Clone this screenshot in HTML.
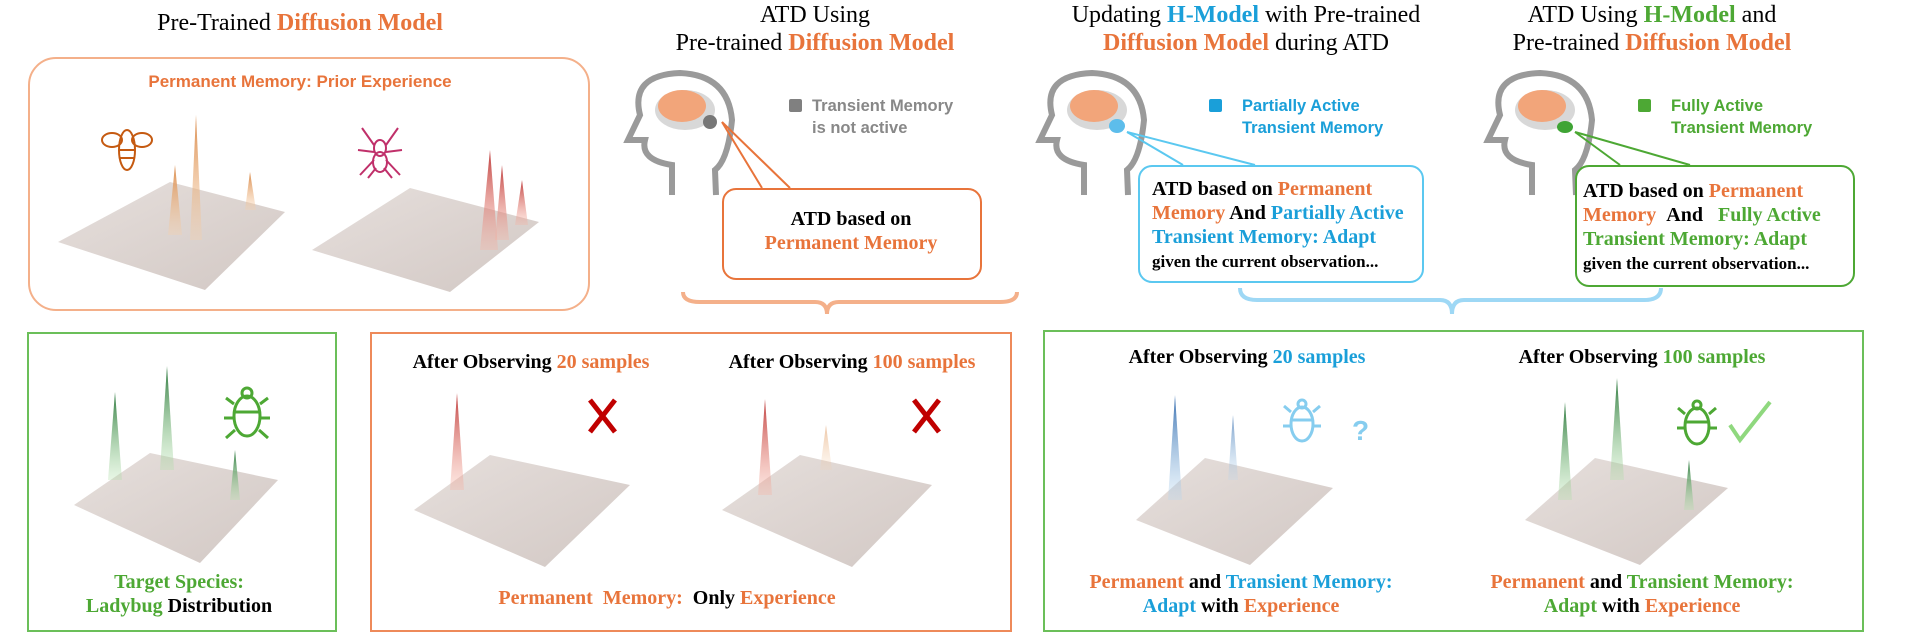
<!DOCTYPE html>
<html><head><meta charset="utf-8">
<style>
body{margin:0;width:1912px;height:634px;background:#fff;position:relative;overflow:hidden;font-family:"Liberation Serif",serif}
.a{position:absolute}
.t{position:absolute;white-space:nowrap;transform:translateX(-50%);text-align:center}
.o{color:#E8743B}.b{color:#1A9FD9}.g{color:#4DA834}.k{color:#111}
.title{font-size:24px;line-height:28px}
.bt{font-weight:bold;font-size:20px;line-height:24px}
.lg{font-family:"Liberation Sans",sans-serif;font-weight:bold;font-size:16.5px;line-height:22px;color:#888}
</style></head><body>

<div class="t title" style="left:300px;top:9px">Pre-Trained <b class="o">Diffusion Model</b></div>
<div class="t title" style="left:815px;top:1px">ATD Using<br>Pre-trained <b class="o">Diffusion Model</b></div>
<div class="t title" style="left:1246px;top:1px">Updating <b class="b">H-Model</b> with Pre-trained<br><b class="o">Diffusion Model</b> during ATD</div>
<div class="t title" style="left:1652px;top:1px">ATD Using <b class="g">H-Model</b> and<br>Pre-trained <b class="o">Diffusion Model</b></div>

<div class="a" style="left:28px;top:57px;width:558px;height:250px;border:2px solid #F4B08A;border-radius:28px"></div>
<div class="t" style="left:300px;top:72px;font-family:'Liberation Sans',sans-serif;font-weight:bold;font-size:17px;color:#E8743B">Permanent Memory: Prior Experience</div>

<svg class="a" style="left:0;top:0" width="1912" height="634">
<defs>
<linearGradient id="pl" x1="0" y1="0" x2="1" y2="1"><stop offset="0" stop-color="#e6dfdc"/><stop offset="1" stop-color="#d2c8c4"/></linearGradient>
<linearGradient id="po" x1="0" y1="0" x2="0" y2="1"><stop offset="0" stop-color="#d98a4a"/><stop offset="1" stop-color="#f8d0a8" stop-opacity=".3"/></linearGradient>
<linearGradient id="pr" x1="0" y1="0" x2="0" y2="1"><stop offset="0" stop-color="#c04040"/><stop offset="1" stop-color="#f8b0a0" stop-opacity=".3"/></linearGradient>
<linearGradient id="pg" x1="0" y1="0" x2="0" y2="1"><stop offset="0" stop-color="#2f7a40"/><stop offset="1" stop-color="#b0e0a8" stop-opacity=".3"/></linearGradient>
<linearGradient id="pb" x1="0" y1="0" x2="0" y2="1"><stop offset="0" stop-color="#3a70b0"/><stop offset="1" stop-color="#b8d8f0" stop-opacity=".3"/></linearGradient>
</defs>
<polygon points="58,242 170,182 285,212 205,290" fill="url(#pl)"/>
<polygon points="312,250 410,188 539,222 450,292" fill="url(#pl)"/>
<polygon points="190,240 196,115 202,240" fill="url(#po)"/><polygon points="168,235 175,165 182,235" fill="url(#po)"/><polygon points="245,210 250,172 256,210" fill="url(#po)"/>
<polygon points="480,250 490,150 498,250" fill="url(#pr)"/><polygon points="495,240 502,165 509,240" fill="url(#pr)"/><polygon points="515,225 522,180 528,225" fill="url(#pr)"/>
<g stroke="#C55A11" stroke-width="2" fill="none"><ellipse cx="127" cy="150" rx="8" ry="20"/><ellipse cx="112" cy="140" rx="10" ry="7"/><ellipse cx="142" cy="140" rx="10" ry="7"/><line x1="119" y1="150" x2="135" y2="150"/><line x1="119" y1="158" x2="135" y2="158"/></g>
<g stroke="#C0306A" stroke-width="2" fill="none"><ellipse cx="380" cy="148" rx="6" ry="8"/><ellipse cx="380" cy="162" rx="7" ry="10"/><path d="M374 145 L362 128 M386 145 L398 128 M374 152 L358 150 M386 152 L402 150 M374 160 L360 175 M386 160 L400 175 M376 168 L368 178 M384 168 L392 178"/></g>
<g stroke="#9a9a9a" stroke-width="6" fill="none">
<path d="M672 195 L672 165 Q640 160 645 140 L628 140 L640 115 Q630 75 680 73 Q728 75 732 120 Q728 160 715 170 L716 195"/>
<path d="M1084 195 L1084 165 Q1052 160 1057 140 L1040 140 L1052 115 Q1042 75 1092 73 Q1140 75 1144 120 Q1140 160 1127 170 L1128 195"/>
<path d="M1532 195 L1532 165 Q1500 160 1505 140 L1488 140 L1500 115 Q1490 75 1540 73 Q1588 75 1592 120 Q1588 160 1575 170 L1576 195"/>
</g>
<ellipse cx="685" cy="110" rx="30" ry="20" fill="#d8d8d8"/><ellipse cx="682" cy="106" rx="24" ry="16" fill="#F2A57A"/><ellipse cx="710" cy="122" rx="7" ry="7" fill="#777"/>
<ellipse cx="1097" cy="110" rx="30" ry="20" fill="#d8d8d8"/><ellipse cx="1094" cy="106" rx="24" ry="16" fill="#F2A57A"/><ellipse cx="1117" cy="126" rx="8" ry="7" fill="#5DBDEB"/>
<ellipse cx="1545" cy="110" rx="30" ry="20" fill="#d8d8d8"/><ellipse cx="1542" cy="106" rx="24" ry="16" fill="#F2A57A"/><ellipse cx="1565" cy="127" rx="8" ry="6" fill="#3FA435"/>
<polyline points="722,122 762,188" stroke="#E8743B" stroke-width="2" fill="none"/><polyline points="722,122 790,188" stroke="#E8743B" stroke-width="2" fill="none"/>
<polyline points="1127,132 1183,165" stroke="#5BC8F0" stroke-width="2" fill="none"/><polyline points="1127,132 1255,165" stroke="#5BC8F0" stroke-width="2" fill="none"/>
<polyline points="1575,132 1620,165" stroke="#4DA834" stroke-width="2" fill="none"/><polyline points="1575,132 1690,165" stroke="#4DA834" stroke-width="2" fill="none"/>
<path d="M683 292 Q683 302 700 302 L815 302 Q827 302 827 314 Q827 302 839 302 L1000 302 Q1017 302 1017 292" stroke="#F4B08A" stroke-width="4" fill="none"/>
<path d="M1240 288 Q1240 300 1257 300 L1440 300 Q1452 300 1452 314 Q1452 300 1464 300 L1644 300 Q1661 300 1661 288" stroke="#9ED8F5" stroke-width="4" fill="none"/>
<polygon points="74,505 150,453 278,480 200,563" fill="url(#pl)"/>
<polygon points="414,510 490,455 630,485 545,567" fill="url(#pl)"/>
<polygon points="722,510 800,455 932,485 852,567" fill="url(#pl)"/>
<polygon points="1136,520 1205,458 1333,488 1250,565" fill="url(#pl)"/>
<polygon points="1525,520 1595,458 1728,488 1640,565" fill="url(#pl)"/>
<polygon points="108,480 115,392 122,480" fill="url(#pg)"/><polygon points="160,470 167,366 174,470" fill="url(#pg)"/><polygon points="230,500 235,450 240,500" fill="url(#pg)"/>
<polygon points="450,490 457,393 464,490" fill="url(#pr)"/><polygon points="758,495 765,399 772,495" fill="url(#pr)"/><polygon points="820,470 826,425 832,470" fill="url(#po)" opacity=".5"/>
<polygon points="1168,500 1175,395 1182,500" fill="url(#pb)"/><polygon points="1228,480 1233,415 1238,480" fill="url(#pb)" opacity=".7"/>
<polygon points="1558,500 1565,402 1572,500" fill="url(#pg)"/><polygon points="1610,480 1617,378 1624,480" fill="url(#pg)"/><polygon points="1684,510 1689,460 1694,510" fill="url(#pg)"/>
<path d="M590 400 L615 432 M615 400 L590 432" stroke="#C00000" stroke-width="5"/>
<path d="M914 400 L939 432 M939 400 L914 432" stroke="#C00000" stroke-width="5"/>
<path d="M1730 425 L1740 440 L1770 402" stroke="#8FD87E" stroke-width="4" fill="none"/>
<g stroke="#4DA834" stroke-width="3" fill="none"><ellipse cx="247" cy="416" rx="13" ry="20"/><line x1="234" y1="412" x2="260" y2="412"/><circle cx="247" cy="393" r="5"/><path d="M234 404 L226 398 M260 404 L268 398 M234 418 L224 418 M260 418 L270 418 M235 430 L226 438 M259 430 L268 438"/></g>
<g stroke="#86CDEF" stroke-width="3" fill="none"><ellipse cx="1302" cy="424" rx="11" ry="17"/><line x1="1291" y1="420" x2="1313" y2="420"/><circle cx="1302" cy="404" r="4"/><path d="M1291 412 L1284 406 M1313 412 L1320 406 M1291 426 L1283 426 M1313 426 L1321 426"/></g>
<text x="1352" y="440" font-family="Liberation Sans" font-weight="bold" font-size="28" fill="#86CDEF">?</text>
<g stroke="#4DA834" stroke-width="3" fill="none"><ellipse cx="1697" cy="426" rx="12" ry="18"/><line x1="1685" y1="422" x2="1709" y2="422"/><circle cx="1697" cy="405" r="4"/><path d="M1685 414 L1678 408 M1709 414 L1716 408 M1685 428 L1677 428 M1709 428 L1717 428"/></g>
</svg>

<div class="a" style="left:789px;top:99px;width:13px;height:13px;background:#808080;border-radius:2px"></div>
<div class="a lg" style="left:812px;top:95px">Transient Memory<br>is not active</div>
<div class="a" style="left:1209px;top:99px;width:13px;height:13px;background:#1A9FD9;border-radius:2px"></div>
<div class="a lg" style="left:1242px;top:95px;color:#1A9FD9">Partially Active<br>Transient Memory</div>
<div class="a" style="left:1638px;top:99px;width:13px;height:13px;background:#4DA834;border-radius:2px"></div>
<div class="a lg" style="left:1671px;top:95px;color:#4DA834">Fully Active<br>Transient Memory</div>

<div class="a" style="left:722px;top:188px;width:256px;height:88px;border:2px solid #E8743B;border-radius:14px;background:#fff"></div>
<div class="t bt" style="left:851px;top:207px">ATD based on<br><span class="o">Permanent Memory</span></div>
<div class="a bt" style="left:1138px;top:165px;width:270px;height:104px;border:2px solid #5BC8F0;border-radius:14px;background:#fff;padding:10px 0 0 12px">ATD based on <span class="o">Permanent</span><br><span class="o">Memory</span> And <span class="b">Partially Active</span><br><span class="b">Transient Memory: Adapt</span><br><span style="font-size:17px">given the current observation...</span></div>
<div class="a bt" style="left:1575px;top:165px;width:270px;height:106px;border:2px solid #4DA834;border-radius:14px;background:#fff;padding:12px 0 0 6px">ATD based on <span class="o">Permanent</span><br><span class="o">Memory</span> &nbsp;And &nbsp;&nbsp;<span class="g">Fully Active</span><br><span class="g">Transient Memory: Adapt</span><br><span style="font-size:17px">given the current observation...</span></div>

<div class="a" style="left:27px;top:332px;width:306px;height:296px;border:2px solid #6BBF59"></div>
<div class="a" style="left:370px;top:332px;width:638px;height:296px;border:2px solid #EE8A5A"></div>
<div class="a" style="left:1043px;top:330px;width:817px;height:298px;border:2px solid #6BBF59"></div>

<div class="t bt" style="left:531px;top:350px">After Observing <span class="o">20 samples</span></div>
<div class="t bt" style="left:852px;top:350px">After Observing <span class="o">100 samples</span></div>
<div class="t bt" style="left:1247px;top:345px">After Observing <span class="b">20 samples</span></div>
<div class="t bt" style="left:1642px;top:345px">After Observing <span class="g">100 samples</span></div>

<div class="t bt" style="left:179px;top:570px"><span class="g">Target Species:</span><br><span class="g">Ladybug</span> Distribution</div>
<div class="t bt" style="left:667px;top:586px"><span class="o">Permanent &nbsp;Memory:</span> &nbsp;Only <span class="o">Experience</span></div>
<div class="t bt" style="left:1241px;top:570px"><span class="o">Permanent</span> and <span class="b">Transient Memory:</span><br><span class="b">Adapt</span> with <span class="o">Experience</span></div>
<div class="t bt" style="left:1642px;top:570px"><span class="o">Permanent</span> and <span class="g">Transient Memory:</span><br><span class="g">Adapt</span> with <span class="o">Experience</span></div>
</body></html>
